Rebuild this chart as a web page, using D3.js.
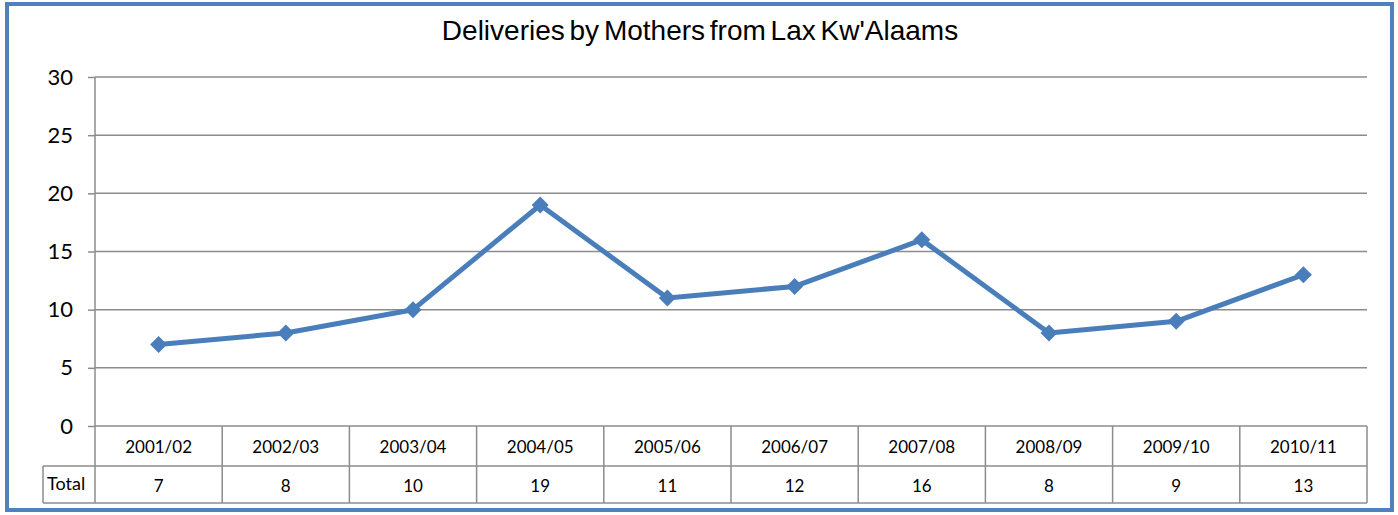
<!DOCTYPE html>
<html>
<head>
<meta charset="utf-8">
<script src="https://cdn.jsdelivr.net/npm/d3@7"></script>
<style>
  body { margin: 0; background: #fff; }
  svg { display: block; }
</style>
</head>
<body>
<svg id="chart"></svg>
<script>
// Chart data
const categories = ['2001/02', '2002/03', '2003/04', '2004/05', '2005/06', '2006/07', '2007/08', '2008/09', '2009/10', '2010/11'];
const totals = [7, 8, 10, 19, 11, 12, 16, 8, 9, 13];
const yTicks = [0, 5, 10, 15, 20, 25, 30];
const seriesName = 'Total';
const title = "Deliveries by Mothers from Lax Kw'Alaams";

const W = 1398, H = 515;
const plot = { left: 95, right: 1367, top: 77, bottom: 426 };
const rowH = [40, 37];
const font = 'Lato, "Open Sans", sans-serif';

const svg = d3.select('#chart').attr('width', W).attr('height', H);

// Outer frame
svg.append('rect')
    .attr('x', 7).attr('y', 4)
    .attr('width', 1385).attr('height', 506)
    .attr('fill', '#fff')
    .attr('stroke', '#4f81bd')
    .attr('stroke-width', 4);

svg.append('text')
    .attr('x', 700).attr('y', 40)
    .attr('text-anchor', 'middle')
    .attr('font-family', '"Liberation Sans", Arial, sans-serif')
    .attr('font-size', 28)
    .attr('word-spacing', -3)
    .attr('fill', '#000')
    .text(title);

const xScale = d3.scaleBand()
    .domain(categories)
    .range([plot.left, plot.right]);

const yScale = d3.scaleLinear()
    .domain([0, 30])
    .range([plot.bottom, plot.top]);

// Gridlines
svg.append('g')
    .selectAll('line')
    .data(yTicks.filter(d => d > 0))
    .enter()
    .append('line')
    .attr('x1', plot.left).attr('x2', plot.right)
    .attr('y1', d => yScale(d)).attr('y2', d => yScale(d))
    .attr('stroke', '#8c8c8c')
    .attr('stroke-width', 1.5);

// Y axis
const yAxis = svg.append('g')
    .attr('transform', `translate(${plot.left},0)`)
    .call(d3.axisLeft(yScale).tickValues(yTicks).tickSize(7).tickPadding(15));
yAxis.select('.domain').attr('stroke', '#8c8c8c').attr('stroke-width', 1.5)
    .attr('d', `M0,${plot.top}V${plot.bottom + rowH[0] + rowH[1]}`);
yAxis.selectAll('.tick line').attr('stroke', '#8c8c8c').attr('stroke-width', 1.5);
yAxis.selectAll('.tick text')
    .attr('font-family', font)
    .attr('font-size', 22)
    .attr('fill', '#000');

// Data table
const table = svg.append('g');
const rowTop1 = plot.bottom;
const rowTop2 = plot.bottom + rowH[0];
const tableBottom = rowTop2 + rowH[1];
const gridColor = '#8c8c8c';

// horizontal lines
table.append('line')
    .attr('x1', plot.left).attr('x2', plot.right)
    .attr('y1', rowTop1).attr('y2', rowTop1)
    .attr('stroke', gridColor).attr('stroke-width', 1.5);
table.append('line')
    .attr('x1', 43).attr('x2', plot.right)
    .attr('y1', rowTop2).attr('y2', rowTop2)
    .attr('stroke', gridColor).attr('stroke-width', 1.5);
table.append('line')
    .attr('x1', 43).attr('x2', plot.right)
    .attr('y1', tableBottom).attr('y2', tableBottom)
    .attr('stroke', gridColor).attr('stroke-width', 1.5);
table.append('line')
    .attr('x1', 43).attr('x2', 43)
    .attr('y1', rowTop2).attr('y2', tableBottom)
    .attr('stroke', gridColor).attr('stroke-width', 1.5);

// vertical separators
table.selectAll('.sep')
    .data(categories)
    .enter()
    .append('line')
    .attr('class', 'sep')
    .attr('x1', d => xScale(d) + xScale.bandwidth())
    .attr('x2', d => xScale(d) + xScale.bandwidth())
    .attr('y1', rowTop1).attr('y2', tableBottom)
    .attr('stroke', gridColor).attr('stroke-width', 1.5);

table.selectAll('.cat')
    .data(categories)
    .enter()
    .append('text')
    .attr('x', d => xScale(d) + xScale.bandwidth() / 2)
    .attr('y', rowTop1 + 27)
    .attr('text-anchor', 'middle')
    .attr('font-family', font)
    .attr('font-size', 17)
    .text(d => d);

table.selectAll('.val')
    .data(totals)
    .enter()
    .append('text')
    .attr('x', (d, i) => xScale(categories[i]) + xScale.bandwidth() / 2)
    .attr('y', rowTop2 + 26)
    .attr('text-anchor', 'middle')
    .attr('font-family', font)
    .attr('font-size', 17)
    .text(d => d);

table.append('text')
    .attr('x', 47).attr('y', rowTop2 + 24)
    .attr('font-family', font)
    .attr('font-size', 18)
    .text(seriesName);

// Line series
const line = d3.line()
    .x((d, i) => xScale(categories[i]) + xScale.bandwidth() / 2)
    .y(d => yScale(d));

svg.append('path')
    .datum(totals)
    .attr('d', line)
    .attr('fill', 'none')
    .attr('stroke', '#4a7ebb')
    .attr('stroke-width', 5)
    .attr('stroke-linejoin', 'round');

svg.selectAll('.marker')
    .data(totals)
    .enter()
    .append('path')
    .attr('class', 'marker')
    .attr('transform', (d, i) => `translate(${xScale(categories[i]) + xScale.bandwidth() / 2},${yScale(d)})`)
    .attr('d', 'M0,-8.5L8.5,0L0,8.5L-8.5,0Z')
    .attr('fill', '#4a7ebb');
</script>
</body>
</html>
